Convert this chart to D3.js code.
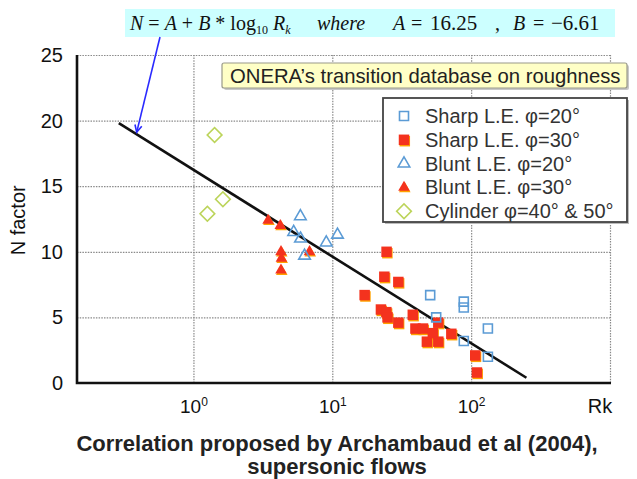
<!DOCTYPE html>
<html><head><meta charset="utf-8">
<script src="https://cdn.jsdelivr.net/npm/d3@7"></script>
<style>
body{margin:0;background:#fff}
svg{display:block;font-family:"Liberation Sans",Arial,sans-serif}
</style>
</head><body>
<script>
// Transition N factor vs roughness Reynolds number Rk, [Rk, N] pairs per configuration
const sharpLE20 = [[50.7,6.7],[88.5,6.2],[88.5,5.75],[56,5.0],[88.5,3.2],[132,4.15],[132,2.0]];
const sharpLE30 = [[24.6,10.0],[23.7,8.1],[29.9,7.7],[17.1,6.7],[22.4,5.6],[24.5,5.4],[25,5.0],
                   [29.9,4.6],[38,5.2],[39.7,4.15],[45,4.15],[48,3.15],[53,3.8],[58,4.6],
                   [58,3.15],[72,3.75],[107,2.1],[110,0.8]];
const bluntLE20 = [[5.89,12.7],[5.27,11.5],[5.9,11.0],[6.31,9.7],[9.05,10.7],[10.9,11.3]];
const bluntLE30 = [[3.45,12.4],[4.22,12.0],[4.27,10.0],[4.3,9.5],[4.27,8.6],[6.85,10.0]];
const cylinder  = [[1.42,18.9],[1.63,14.0],[1.26,12.9]];

// Correlation N = A + B*log10(Rk)
const coefA = 16.25, coefB = -6.61;
const fitRk = [0.29, 250];

const yTicks = [0, 5, 10, 15, 20, 25];
const xTicks = [1, 10, 100];
const xGrid  = [1, 10, 100, 1000];
const legendLabels = ["Sharp L.E. \u03c6=20\u00b0", "Sharp L.E. \u03c6=30\u00b0",
                      "Blunt L.E. \u03c6=20\u00b0", "Blunt L.E. \u03c6=30\u00b0",
                      "Cylinder \u03c6=40\u00b0  & 50\u00b0"];

const W = 637, H = 479;
const svg = d3.select("body").append("svg").attr("width", W).attr("height", H);

const x = d3.scaleLog().domain([0.145, 1000]).range([77, 610]);
const y = d3.scaleLinear().domain([0, 25]).range([383, 55]);

const BLUE = "#5b9bd5", RED = "#f4321e", RIM = "#ffa200", GREEN = "#bcd45a";
const SANS = "'Liberation Sans',Arial,sans-serif";

// dotted grid
const gridY = svg.append("g").attr("transform", `translate(${x.range()[0]},0)`)
  .call(d3.axisLeft(y).tickValues(yTicks.slice(1)).tickSize(-(x.range()[1]-x.range()[0])).tickFormat(""));
const gridX = svg.append("g").attr("transform", `translate(0,${y.range()[0]})`)
  .call(d3.axisBottom(x).tickValues(xGrid).tickSize(-(y.range()[0]-y.range()[1])).tickFormat(""));
[gridX, gridY].forEach(g => {
  g.select(".domain").remove();
  g.selectAll(".tick line").attr("stroke", "#8a8a8a").attr("stroke-width", 1.2).attr("stroke-dasharray", "1.5,1.2");
});

// y tick labels
const yAx = svg.append("g").attr("transform", `translate(${x.range()[0]},0)`)
  .call(d3.axisLeft(y).tickValues(yTicks).tickSize(0).tickPadding(14).tickFormat(d3.format("d")));
yAx.select(".domain").remove();
yAx.selectAll("text").attr("font-size", 20).attr("fill", "#111").attr("font-family", SANS);

// x tick labels as powers of ten
const xAx = svg.append("g").attr("transform", `translate(0,${y.range()[0]})`)
  .call(d3.axisBottom(x).tickValues(xTicks).tickSize(0).tickFormat(""));
xAx.select(".domain").remove();
xAx.selectAll(".tick").append("text")
  .attr("y", 30).attr("text-anchor", "middle").attr("fill", "#111")
  .attr("font-size", 19).attr("font-family", SANS)
  .each(function(d) {
    const t = d3.select(this);
    t.append("tspan").text("10");
    t.append("tspan").attr("dy", -7).attr("font-size", 12).text(Math.round(Math.log10(d)));
  });
svg.append("text").attr("x", 600).attr("y", y.range()[0] + 30).attr("text-anchor", "middle")
  .attr("font-size", 20).attr("fill", "#111").text("Rk");

// axis lines
svg.append("path").attr("fill", "none").attr("stroke", "#111").attr("stroke-width", 2.6)
  .attr("d", `M${x.range()[0]},${y.range()[1]}V${y.range()[0]}H${x.range()[1]+1}`);

svg.append("text").attr("transform", `translate(25,${y(12.4)}) rotate(-90)`)
  .attr("text-anchor", "middle").attr("font-size", 20).attr("fill", "#111").text("N factor");

// correlation line
const fitLine = d3.line().x(d => x(d)).y(d => y(coefA + coefB * Math.log10(d)));
svg.append("path").datum(fitRk).attr("d", fitLine)
  .attr("stroke", "#111").attr("stroke-width", 2.6).attr("fill", "none");

// markers
const shapes = {
  sq:  d3.symbol().type(d3.symbolSquare).size(81),
  sqF: d3.symbol().type(d3.symbolSquare).size(110),
  tri: d3.symbol().type(d3.symbolTriangle).size(58),
  dia: d3.symbol().type(d3.symbolSquare).size(108)
};
function drawOpen(data, path, color, rot) {
  svg.append("g").selectAll("path").data(data).join("path")
    .attr("d", path).attr("fill", "none").attr("stroke", color).attr("stroke-width", 1.6)
    .attr("transform", d => `translate(${x(d[0])},${y(d[1])}) rotate(${rot||0})`);
}
function drawFilled(data, path) {
  const g = svg.append("g");
  g.selectAll("path.rim").data(data).join("path").attr("class", "rim")
    .attr("d", path).attr("fill", RIM)
    .attr("transform", d => `translate(${x(d[0])+0.8},${y(d[1])+1.4})`);
  g.selectAll("path.body").data(data).join("path").attr("class", "body")
    .attr("d", path).attr("fill", RED)
    .attr("transform", d => `translate(${x(d[0])},${y(d[1])})`);
}
drawOpen(cylinder, shapes.dia(), GREEN, 45);
drawFilled(bluntLE30, shapes.tri());
drawOpen(bluntLE20, shapes.tri(), BLUE);
drawFilled(sharpLE30, shapes.sqF());
drawOpen(sharpLE20, shapes.sq(), BLUE);

// legend
const lg = svg.append("g");
lg.append("rect").attr("x", 385).attr("y", 100).attr("width", 244).attr("height", 124).attr("fill", "#bbb");
lg.append("rect").attr("x", 383).attr("y", 98).attr("width", 244).attr("height", 124)
  .attr("fill", "#fff").attr("stroke", "#444").attr("stroke-width", 1.8);
const legendShapes = [
  {p: shapes.sq(), open: true, c: BLUE},
  {p: shapes.sqF(), open: false},
  {p: shapes.tri(), open: true, c: BLUE},
  {p: shapes.tri(), open: false},
  {p: shapes.dia(), open: true, c: GREEN, rot: 45}
];
legendLabels.forEach((lab, i) => {
  const cy = 116 + i * 23.8, s = legendShapes[i];
  if (s.open) {
    lg.append("path").attr("d", s.p).attr("fill", "none").attr("stroke", s.c).attr("stroke-width", 1.6)
      .attr("transform", `translate(404,${cy}) rotate(${s.rot||0})`);
  } else {
    lg.append("path").attr("d", s.p).attr("fill", RIM).attr("transform", `translate(404.8,${cy+1.4})`);
    lg.append("path").attr("d", s.p).attr("fill", RED).attr("transform", `translate(404,${cy})`);
  }
  lg.append("text").attr("x", 425).attr("y", cy + 7).attr("font-size", 20).attr("fill", "#333").text(lab);
});

// database label
svg.append("rect").attr("x", 224).attr("y", 65).attr("width", 405).attr("height", 25).attr("rx", 2).attr("fill", "#c8c8c8");
svg.append("rect").attr("x", 222).attr("y", 63).attr("width", 405).attr("height", 25).attr("rx", 2)
  .attr("fill", "#ffffc6").attr("stroke", "#9a9a8a").attr("stroke-width", 1.2);
svg.append("text").attr("x", 230).attr("y", 83).attr("font-size", 20.3).attr("fill", "#222")
  .text("ONERA\u2019s transition database on roughness");

// formula banner
svg.append("rect").attr("x", 125).attr("y", 9).attr("width", 490).attr("height", 28).attr("fill", "#ccffff");
const f = svg.append("text").attr("y", 30).attr("font-size", 20).attr("fill", "#111")
  .attr("font-family", "'Liberation Serif','Times New Roman',serif");
f.append("tspan").attr("x", 130).attr("font-style", "italic").text("N");
f.append("tspan").text(" = ");
f.append("tspan").attr("font-style", "italic").text("A");
f.append("tspan").text(" + ");
f.append("tspan").attr("font-style", "italic").text("B");
f.append("tspan").text(" * log");
f.append("tspan").attr("font-size", 12).attr("dy", 4).text("10");
f.append("tspan").attr("font-style", "italic").attr("dy", -4).text(" R");
f.append("tspan").attr("font-style", "italic").attr("font-size", 12).attr("dy", 4).text("k");
f.append("tspan").attr("x", 317).attr("dy", -4).attr("font-style", "italic").text("where");
f.append("tspan").attr("x", 393).attr("font-style", "italic").text("A");
f.append("tspan").attr("x", 411).text("=");
f.append("tspan").attr("x", 430).attr("font-size", 21).text(coefA);
f.append("tspan").attr("x", 495).text(",");
f.append("tspan").attr("x", 513).attr("font-style", "italic").text("B");
f.append("tspan").attr("x", 533).text("=");
f.append("tspan").attr("x", 551).attr("font-size", 21).text(`\u2212${Math.abs(coefB)}`);

// arrow pointing from the formula to the correlation line
const tipRk = 0.39, tip = [x(tipRk), y(coefA + coefB * Math.log10(tipRk)) - 2];
svg.append("line").attr("x1", 160).attr("y1", 37).attr("x2", tip[0]).attr("y2", tip[1])
  .attr("stroke", "#2a2aff").attr("stroke-width", 1.6);
const ang = Math.atan2(tip[1] - 37, tip[0] - 160);
const ah = 8, aw = 0.45;
svg.append("path").attr("fill", "none").attr("stroke", "#2a2aff").attr("stroke-width", 1.6)
  .attr("d", `M${tip[0]-ah*Math.cos(ang-aw)},${tip[1]-ah*Math.sin(ang-aw)}L${tip[0]},${tip[1]}L${tip[0]-ah*Math.cos(ang+aw)},${tip[1]-ah*Math.sin(ang+aw)}`);

// caption
const cap = svg.append("text").attr("text-anchor", "middle").attr("font-weight", "bold")
  .attr("font-size", 22).attr("fill", "#222");
cap.append("tspan").attr("x", 337).attr("y", 451).text("Correlation proposed by Archambaud et al (2004),");
cap.append("tspan").attr("x", 337).attr("y", 474).text("supersonic flows");
</script>
</body></html>
